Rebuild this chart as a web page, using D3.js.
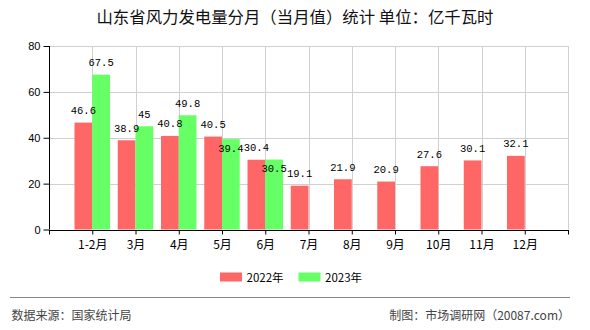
<!DOCTYPE html>
<html>
<head>
<meta charset="utf-8">
<script src="https://cdn.jsdelivr.net/npm/d3@7/dist/d3.min.js"></script>
<style>
  html, body { margin: 0; padding: 0; background: #fff; }
  svg { display: block; }
</style>
</head>
<body>
<svg id="chart" width="590" height="330"></svg>
<script>
// Monthly wind power generation, Shandong province (100 million kWh)
const months = ["1-2月", "3月", "4月", "5月", "6月", "7月", "8月", "9月", "10月", "11月", "12月"];
const values2022 = [46.6, 38.9, 40.8, 40.5, 30.4, 19.1, 21.9, 20.9, 27.6, 30.1, 32.1];
const values2023 = [67.5, 45, 49.8, 39.4, 30.5, null, null, null, null, null, null];
const seriesNames = ["2022年", "2023年"];
const yTicks = [0, 20, 40, 60, 80];

const colors = ["#ff6666", "#66ff66"];
const cjk = "'Noto Sans CJK SC', 'Noto Sans', sans-serif";

const svg = d3.select("#chart");
const plotL = 49, plotR = 568, plotT = 46, plotB = 229.5;

const x = d3.scalePoint().domain(months).range([plotL, plotR]).padding(1);
const step = x.step();
const barW = step * 0.41;
const y = d3.scaleLinear().domain([0, 80]).range([plotB, plotT]);

// title
svg.append("text")
  .attr("x", 295).attr("y", 23)
  .attr("text-anchor", "middle")
  .style("font-family", cjk).style("font-size", "16.4px").attr("fill", "#111")
  .text("山东省风力发电量分月（当月值）统计 单位：亿千瓦时");

// grid
const grid = svg.append("g").attr("stroke", "#d0d0d0").attr("stroke-width", 1);
yTicks.filter(t => t > 0).forEach(t => {
  grid.append("line").attr("x1", plotL).attr("x2", plotR)
    .attr("y1", Math.round(y(t)) + 0.5).attr("y2", Math.round(y(t)) + 0.5);
});
const vlines = months.map(m => x(m)).concat([plotR]);
vlines.forEach(px => {
  grid.append("line").attr("x1", Math.round(px) + 0.5).attr("x2", Math.round(px) + 0.5)
    .attr("y1", plotT).attr("y2", plotB);
});

// bars
const series = [values2022, values2023];
const bars = svg.append("g");
series.forEach((vals, si) => {
  bars.selectAll(null)
    .data(months.map((m, i) => ({ m, v: vals[i] })).filter(d => d.v != null))
    .enter().append("rect")
    .attr("x", d => si === 0 ? x(d.m) - barW : x(d.m))
    .attr("y", d => y(d.v))
    .attr("width", barW)
    .attr("height", d => y(0) - y(d.v))
    .attr("fill", colors[si]);
});

// value labels; a 2023 label that collides with its 2022 neighbour drops below the bar top
const labelFont = "'Liberation Mono', 'DejaVu Sans Mono', monospace";
const labels = svg.append("g")
  .style("font-family", labelFont).style("font-size", "10.5px")
  .attr("text-anchor", "middle").attr("fill", "#000");
months.forEach((m, i) => {
  const a = values2022[i], b = values2023[i];
  const ya = y(a) - 8.5;
  labels.append("text").attr("x", x(m) - barW / 2).attr("y", ya).text(a);
  if (b != null) {
    let yb = y(b) - 8.5;
    if (Math.abs(yb - ya) < 12) yb = y(b) + 12.5;
    labels.append("text").attr("x", x(m) + barW / 2).attr("y", yb).text(b);
  }
});

// y axis
const yAxis = svg.append("g").attr("transform", `translate(${plotL + 0.5},0)`)
  .call(d3.axisLeft(y).tickValues(yTicks).tickSize(6).tickPadding(3).tickFormat(d3.format("d")));
yAxis.select(".domain").attr("stroke", "#000").attr("d", `M0,${plotT}V${plotB}`);
yAxis.selectAll(".tick line").attr("stroke", "#000");
yAxis.selectAll("text").style("font-family", "'Liberation Sans', Arial, sans-serif").style("font-size", "11px").attr("fill", "#000");

// x axis
const xAxis = svg.append("g").attr("transform", `translate(0,${Math.round(plotB) + 0.5})`)
  .call(d3.axisBottom(x).tickSize(4).tickPadding(6));
xAxis.select(".domain").attr("stroke", "#000").attr("d", `M${plotL},0H${plotR + 1}`);
xAxis.selectAll(".tick line").attr("stroke", "#000");
xAxis.selectAll("text").style("font-family", cjk).style("font-size", "12px").attr("fill", "#000");
[plotL, plotR].forEach(px => {
  xAxis.append("line").attr("x1", px + 0.5).attr("x2", px + 0.5).attr("y1", 0).attr("y2", 4).attr("stroke", "#000");
});

// legend
const legend = svg.append("g");
const legendX = [220, 298.5];
seriesNames.forEach((name, i) => {
  legend.append("rect").attr("x", legendX[i]).attr("y", 272.5).attr("width", 22).attr("height", 9).attr("fill", colors[i]);
  legend.append("text").attr("x", legendX[i] + 26.5).attr("y", 281.5)
    .style("font-family", cjk).style("font-size", "11.5px").attr("fill", "#000").text(name);
});

// footer
svg.append("line").attr("x1", 10).attr("x2", 570).attr("y1", 297.5).attr("y2", 297.5)
  .attr("stroke", "#888").attr("stroke-width", 1.2);
svg.append("text").attr("x", 11.5).attr("y", 320)
  .style("font-family", cjk).style("font-size", "12px").attr("fill", "#444")
  .text("数据来源：国家统计局");
svg.append("text").attr("x", 570).attr("y", 320).attr("text-anchor", "end")
  .style("font-family", cjk).style("font-size", "12px").attr("fill", "#444")
  .text("制图：市场调研网（20087.com）");
</script>
</body>
</html>
